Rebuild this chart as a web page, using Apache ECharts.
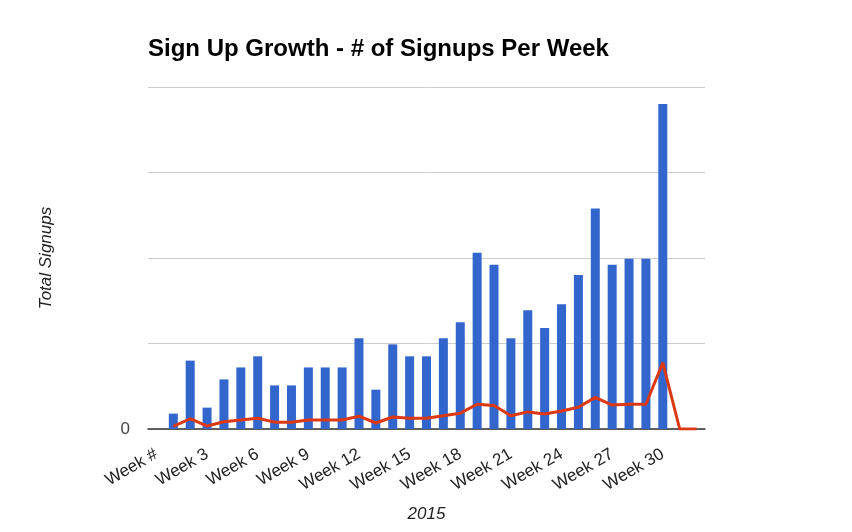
<!DOCTYPE html>
<html>
<head>
<meta charset="utf-8">
<script src="https://cdn.jsdelivr.net/npm/echarts@6/dist/echarts.min.js"></script>
<style>html,body{margin:0;padding:0;background:#fff;}#c{width:852px;height:532px;}</style>
</head>
<body>
<div id="c"></div>
<script>
const categories = ["Week #","Week 1","Week 2","Week 3","Week 4","Week 5","Week 6","Week 7","Week 8","Week 9","Week 10","Week 11","Week 12","Week 13","Week 14","Week 15","Week 16","Week 17","Week 18","Week 19","Week 20","Week 21","Week 22","Week 23","Week 24","Week 25","Week 26","Week 27","Week 28","Week 29","Week 30","Week 31","Week 32"];
const barValues = [null,18,80,25,58,72,85,51,51,72,72,72,106,46,99,85,85,106,125,206,192,106,139,118,146,180,258,192,199,199,380,null,null];
const lineValues = [null,3,12,3.5,8.5,10.5,12.5,8,8,10.5,10.5,10.5,15,7,14,12.5,12.5,15.5,18.5,29,27.5,15.5,20,17.5,21,25.5,37,28,29,29,77.5,0,0];
const yTicks = [0,100,200,300,400];

const chart = echarts.init(document.getElementById('c'));
chart.setOption({
  animation: false,
  title: {
    text: 'Sign Up Growth - # of Signups Per Week',
    left: 143, top: 32,
    textStyle: {fontFamily: 'Liberation Sans, Arial', fontSize: 24, fontWeight: 'bold', color: '#000'}
  },
  grid: {left: 148, right: 147, top: 87, bottom: 103, containLabel: false, outerBoundsMode: 'none'},
  xAxis: {
    type: 'category',
    data: categories,
    boundaryGap: true,
    name: '2015',
    nameLocation: 'middle',
    nameGap: 77,
    nameTextStyle: {fontFamily: 'Liberation Sans, Arial', fontSize: 17, fontStyle: 'italic', color: '#222'},
    axisLine: {lineStyle: {color: '#333', width: 1.5}},
    axisTick: {show: false},
    axisLabel: {
      interval: 2, rotate: 30, margin: 24,
      fontFamily: 'Liberation Sans, Arial', fontSize: 17, color: '#222'
    },
    splitLine: {show: false}
  },
  yAxis: {
    type: 'value',
    min: yTicks[0], max: yTicks[yTicks.length-1], interval: 100,
    name: 'Total Signups',
    nameLocation: 'middle',
    nameGap: 93,
    nameTextStyle: {fontFamily: 'Liberation Sans, Arial', fontSize: 17, fontStyle: 'italic', color: '#222'},
    axisLine: {show: false},
    axisTick: {show: false},
    axisLabel: {
      margin: 18,
      fontFamily: 'Liberation Sans, Arial', fontSize: 17, color: '#444',
      formatter: v => (v === 0 ? '0' : '')
    },
    splitLine: {lineStyle: {color: '#ccc', width: 1}}
  },
  series: [
    {
      type: 'bar',
      data: barValues,
      barWidth: 9,
      itemStyle: {color: '#3366cc'}
    },
    {
      type: 'line',
      data: lineValues,
      showSymbol: false,
      symbol: 'none',
      lineStyle: {color: '#dc3912', width: 3},
      itemStyle: {color: '#dc3912'},
      z: 3
    }
  ]
});
</script>
</body>
</html>
